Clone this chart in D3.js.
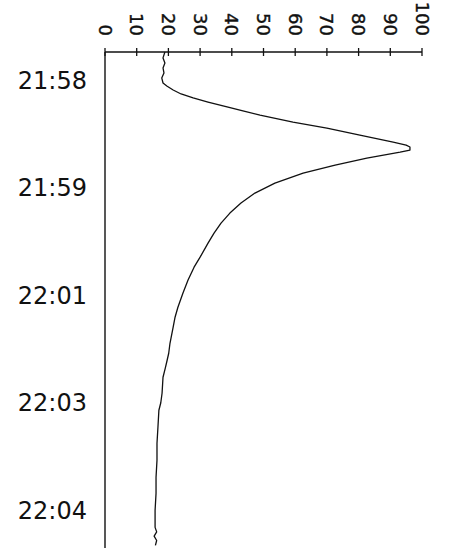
<!DOCTYPE html>
<html>
<head>
<meta charset="utf-8">
<script src="https://cdn.jsdelivr.net/npm/d3@7"></script>
<style>
  body { margin: 0; background: #fff; }
  text { font-family: "DejaVu Sans", sans-serif; fill: #111; }
</style>
</head>
<body>
<div id="my_dataviz"></div>
<script>
// time labels down the left side (evenly spaced on the trace)
const timeLabels = ["21:58", "21:59", "22:01", "22:03", "22:04"];
// value ticks along the top
const valueTicks = [0, 10, 20, 30, 40, 50, 60, 70, 80, 90, 100];
// position along the time axis, in label steps (0 = 21:58 ... 4 = 22:04)
const pos = [-0.26, -0.205, -0.158, -0.112, -0.065, -0.019, 0.028, 0.056, 0.093, 0.13,
  0.167, 0.205, 0.251, 0.288, 0.326, 0.391, 0.447, 0.512, 0.577, 0.605,
  0.623, 0.651, 0.67, 0.726, 0.791, 0.865, 0.958, 1.051, 1.144, 1.237,
  1.33, 1.423, 1.516, 1.647, 1.74, 1.86, 1.98, 2.112, 2.205, 2.298,
  2.447, 2.54, 2.605, 2.68, 2.763, 2.912, 3.0, 3.07, 3.228, 3.377,
  3.535, 3.693, 3.842, 4.0, 4.158, 4.2, 4.24, 4.28, 4.326];
// signal value at each position
const signal = [18.9, 18.3, 18.9, 18.3, 18.6, 17.9, 18.3, 19.5, 21.5, 24.0,
  27.8, 32.5, 38.5, 43.5, 48.9, 59.3, 70.0, 80.4, 90.9, 95.0,
  96.2, 96.2, 93.1, 82.6, 72.6, 62.5, 53.6, 47.3, 42.9, 39.4,
  36.6, 34.4, 32.5, 30.0, 28.1, 26.2, 24.6, 23.0, 22.1, 21.5,
  20.5, 20.1, 19.6, 19.0, 18.3, 18.0, 17.6, 17.0, 16.7, 16.4,
  16.4, 16.1, 16.1, 15.8, 15.8, 16.3, 15.5, 16.3, 15.9];

const width = 449, height = 552;

const svg = d3.select("#my_dataviz")
  .append("svg")
  .attr("width", width)
  .attr("height", height);

// value runs left to right, time runs top to bottom
const x = d3.scaleLinear().domain([0, 100]).range([105, 422]);
const y = d3.scaleLinear().domain([-0.26, 4.35]).range([52, 548]);

// top axis line + ticks crossing it
svg.append("line")
  .attr("x1", x(0)).attr("x2", x(100))
  .attr("y1", y(-0.26)).attr("y2", y(-0.26))
  .attr("stroke", "#111").attr("stroke-width", 1.4);

svg.selectAll("valueTicks")
  .data(valueTicks)
  .join("line")
    .attr("x1", d => x(d)).attr("x2", d => x(d))
    .attr("y1", y(-0.26) - 4).attr("y2", y(-0.26) + 4)
    .attr("stroke", "#111").attr("stroke-width", 1.3);

// rotated tick labels, read top to bottom
svg.selectAll("valueLabels")
  .data(valueTicks)
  .join("text")
    .text(d => d)
    .attr("transform", d => `translate(${x(d)},36) rotate(90)`)
    .attr("dy", "0.36em")
    .style("text-anchor", "end")
    .style("font-size", "18px")
    .style("stroke", "#111")
    .style("stroke-width", 0.4);

// left axis line, no ticks
svg.append("line")
  .attr("x1", x(0)).attr("x2", x(0))
  .attr("y1", y(-0.26)).attr("y2", y(4.35))
  .attr("stroke", "#111").attr("stroke-width", 1.4);

svg.selectAll("timeLabels")
  .data(timeLabels)
  .join("text")
    .text(d => d)
    .attr("x", 87)
    .attr("y", (d, i) => y(i))
    .attr("dy", "0.36em")
    .style("text-anchor", "end")
    .style("font-size", "24px");

// the trace
const line = d3.line()
  .x(i => x(signal[i]))
  .y(i => y(pos[i]));

svg.append("path")
  .datum(d3.range(pos.length))
  .attr("d", line)
  .attr("fill", "none")
  .attr("stroke", "#111")
  .attr("stroke-width", 1.3)
  .attr("stroke-linejoin", "round");
</script>
</body>
</html>
